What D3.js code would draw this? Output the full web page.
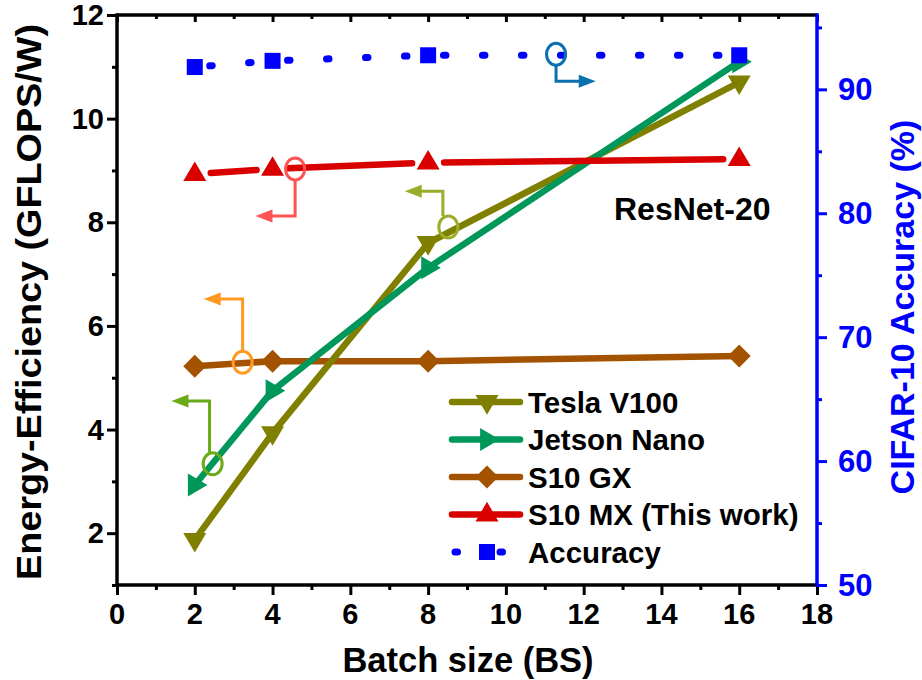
<!DOCTYPE html>
<html>
<head>
<meta charset="utf-8">
<script src="https://cdn.jsdelivr.net/npm/d3@7"></script>
<style>
  body { margin: 0; background: #fff; }
  svg text { font-family: "Liberation Sans", Arial, sans-serif; font-weight: bold; }
</style>
</head>
<body>
<svg id="chart" width="922" height="680"></svg>
<script>
// values
var batchSize = [2, 4, 8, 16];
var tesla = [1.87, 3.93, 7.6, 10.7];
var jetson = [2.93, 4.75, 7.12, 11.1];
var s10gx = [5.22, 5.32, 5.32, 5.42];
var s10mx = [8.93, 9.03, 9.15, 9.22];
var accuracy = [91.8, 92.3, 92.75, 92.75];

var xTicks = [0, 2, 4, 6, 8, 10, 12, 14, 16, 18];
var yLeftTicks = [2, 4, 6, 8, 10, 12];
var yRightTicks = [50, 60, 70, 80, 90];

var legendNames = ["Tesla V100", "Jetson Nano", "S10 GX", "S10 MX (This work)", "Accuracy"];

// axis pointers: circle (cx, cy), elbow y, arrow tip x, which axis
var pointers = [
  { cx: 2.46, cy: 3.34, vx: 2.38, ey: 4.55, tip: 1.4, axis: "L", color: "#6aaa18" },
  { cx: 3.23, cy: 5.3, vx: 3.23, ey: 6.52, tip: 2.23, axis: "L", color: "#ff9a22" },
  { cx: 4.58, cy: 9.03, vx: 4.58, ey: 8.12, tip: 3.56, axis: "L", color: "#ff5252" },
  { cx: 8.52, cy: 7.91, vx: 8.38, ey: 8.6, tip: 7.4, axis: "L", color: "#9aad2a" },
  { cx: 11.29, cy: 92.83, vx: 11.29, ey: 90.65, tip: 12.31, axis: "R", color: "#0a70b0" }
];

var margin = {left: 117, top: 15, right: 105, bottom: 95};
var W = 922, H = 680;
var svg = d3.select("#chart");

var x = d3.scaleLinear().domain([0, 18]).range([margin.left, W - margin.right]);
var yL = d3.scaleLinear().domain([1, 12]).range([H - margin.bottom, margin.top]);
var yR = d3.scaleLinear().domain([50, 96]).range([H - margin.bottom, margin.top]);

var colors = {
  tesla: "#808000",
  jetson: "#00975a",
  gx: "#a35300",
  mx: "#d90000",
  acc: "#0000ff"
};

// ---- axes ----
var axBottom = svg.append("g")
  .attr("transform", "translate(0," + yL.range()[0] + ")")
  .call(d3.axisBottom(x).tickValues(d3.range(0, 19, 1)).tickSize(10).tickFormat(""));
axBottom.selectAll(".tick line").attr("y2", function(d) { return d % 2 ? 5 : 10; });
svg.append("g").selectAll("text").data(xTicks).join("text")
  .attr("x", d => x(d)).attr("y", 624)
  .attr("text-anchor", "middle").attr("font-size", 29)
  .text(d => d);

var axTop = svg.append("g")
  .attr("transform", "translate(0," + yL.range()[1] + ")")
  .call(d3.axisBottom(x).tickValues(d3.range(0, 19, 1)).tickSize(7).tickFormat(""));
axTop.selectAll(".tick line").attr("y2", function(d) { return d % 2 ? 4 : 7; });

var axLeft = svg.append("g")
  .attr("transform", "translate(" + x(0) + ",0)")
  .call(d3.axisLeft(yL).tickValues(d3.range(1, 13, 1)).tickSize(10).tickFormat(""));
axLeft.selectAll(".tick line").attr("x2", function(d) { return d % 2 ? -5 : -10; });
svg.append("g").selectAll("text").data(yLeftTicks).join("text")
  .attr("x", 104).attr("y", d => yL(d) + 10)
  .attr("text-anchor", "end").attr("font-size", 29)
  .text(d => d);

var axRight = svg.append("g")
  .attr("transform", "translate(" + x(18) + ",0)")
  .call(d3.axisRight(yR).tickValues(d3.range(50, 96, 5)).tickSize(10).tickFormat(""));
axRight.selectAll(".tick line").attr("x2", function(d) { return d % 10 ? 5 : 10; });
svg.append("g").selectAll("text").data(yRightTicks).join("text")
  .attr("x", 838).attr("y", d => yR(d) + 11)
  .attr("text-anchor", "start").attr("font-size", 31).attr("fill", colors.acc)
  .text(d => d);

svg.selectAll(".tick line").attr("stroke-width", 3);
axRight.selectAll(".tick line").attr("stroke", colors.acc);

// box lines drawn plain so no end caps stick out
svg.selectAll(".domain").remove();
var x0 = x(0), x1 = x(18), y0 = yL(1), y1 = yL(12);
svg.append("line").attr("x1", x0).attr("x2", x1).attr("y1", y0).attr("y2", y0).attr("stroke", "#000").attr("stroke-width", 3.5);
svg.append("line").attr("x1", x0).attr("x2", x1).attr("y1", y1).attr("y2", y1).attr("stroke", "#000").attr("stroke-width", 3.5);
svg.append("line").attr("x1", x0).attr("x2", x0).attr("y1", y0 + 1.7).attr("y2", y1 - 1.7).attr("stroke", "#000").attr("stroke-width", 3.5);
svg.append("line").attr("x1", x1).attr("x2", x1).attr("y1", y0 + 1.7).attr("y2", y1 - 1.7).attr("stroke", colors.acc).attr("stroke-width", 3.5);

// titles
svg.append("text").attr("x", 468).attr("y", 672).attr("text-anchor", "middle")
  .attr("font-size", 34.5).text("Batch size (BS)");
svg.append("text").attr("transform", "translate(41,302) rotate(-90)").attr("text-anchor", "middle")
  .attr("font-size", 35).attr("textLength", 556).attr("lengthAdjust", "spacingAndGlyphs")
  .text("Energy-Efficiency (GFLOPS/W)");
svg.append("text").attr("transform", "translate(914,307) rotate(-90)").attr("text-anchor", "middle")
  .attr("font-size", 34).attr("fill", colors.acc).text("CIFAR-10 Accuracy (%)");

svg.append("text").attr("x", 614).attr("y", 220).attr("font-size", 32).text("ResNet-20");

// ---- markers ----
function marker(g, type, cx, cy, color) {
  var s = 11.5;
  if (type === "down") {
    g.append("path").attr("d", "M" + (cx - s) + "," + (cy - s * 0.6) + "L" + (cx + s) + "," + (cy - s * 0.6) + "L" + cx + "," + (cy + s * 1.1) + "Z").attr("fill", color);
  } else if (type === "up") {
    g.append("path").attr("d", "M" + (cx - s) + "," + (cy + s * 0.6) + "L" + (cx + s) + "," + (cy + s * 0.6) + "L" + cx + "," + (cy - s * 1.1) + "Z").attr("fill", color);
  } else if (type === "right") {
    g.append("path").attr("d", "M" + (cx - s * 0.6) + "," + (cy - s) + "L" + (cx - s * 0.6) + "," + (cy + s) + "L" + (cx + s * 1.1) + "," + cy + "Z").attr("fill", color);
  } else if (type === "diamond") {
    g.append("path").attr("d", "M" + (cx - s) + "," + cy + "L" + cx + "," + (cy - s) + "L" + (cx + s) + "," + cy + "L" + cx + "," + (cy + s) + "Z").attr("fill", color);
  } else if (type === "square") {
    g.append("rect").attr("x", cx - 8).attr("y", cy - 8).attr("width", 16).attr("height", 16).attr("fill", color);
  }
}

// line with gaps around each marker (Origin style)
function gappedLine(g, pts, color, gap) {
  for (var i = 0; i < pts.length - 1; i++) {
    var a = pts[i], b = pts[i + 1];
    var dx = b[0] - a[0], dy = b[1] - a[1], len = Math.sqrt(dx * dx + dy * dy);
    var ux = dx / len, uy = dy / len;
    g.append("line")
      .attr("x1", a[0] + ux * gap).attr("y1", a[1] + uy * gap)
      .attr("x2", b[0] - ux * gap).attr("y2", b[1] - uy * gap)
      .attr("stroke", color).attr("stroke-width", 6.5).attr("stroke-linecap", "round");
  }
}

var series = [
  { vals: s10gx, y: yL, color: colors.gx, type: "diamond", gap: 0 },
  { vals: tesla, y: yL, color: colors.tesla, type: "down", gap: 0 },
  { vals: jetson, y: yL, color: colors.jetson, type: "right", gap: 0 },
  { vals: s10mx, y: yL, color: colors.mx, type: "up", gap: 16 }
];

var plot = svg.append("g");
series.forEach(function(s) {
  var pts = batchSize.map(function(b, i) { return [x(b), s.y(s.vals[i])]; });
  var g = plot.append("g");
  gappedLine(g, pts, s.color, s.gap);
  pts.forEach(function(p) { marker(g, s.type, p[0], p[1], s.color); });
});

// accuracy: dotted line on right axis
var accG = plot.append("g");
var accLine = d3.line().x((d, i) => x(batchSize[i])).y(d => yR(d));
accG.append("path").datum(accuracy).attr("d", accLine)
  .attr("fill", "none").attr("stroke", colors.acc).attr("stroke-width", 7)
  .attr("stroke-linecap", "round").attr("stroke-dasharray", "2.5 36.5").attr("stroke-dashoffset", -15);
accuracy.forEach(function(v, i) { marker(accG, "square", x(batchSize[i]), yR(v), colors.acc); });

// ---- axis pointers ----
var pg = svg.append("g");
pointers.forEach(function(p) {
  var yy = p.axis === "R" ? yR : yL;
  var cx = x(p.cx), cy = yy(p.cy), vx = x(p.vx), ey = yy(p.ey), tx = x(p.tip);
  var dir = tx < vx ? -1 : 1;
  var startY = ey < cy ? cy - 11 : cy + 11;
  pg.append("polyline")
    .attr("points", [[vx, startY], [vx, ey], [tx - dir * 14, ey]].map(d => d.join(",")).join(" "))
    .attr("fill", "none").attr("stroke", p.color).attr("stroke-width", 3);
  pg.append("path")
    .attr("d", "M" + tx + "," + ey + "L" + (tx - dir * 17) + "," + (ey - 6.5) + "L" + (tx - dir * 17) + "," + (ey + 6.5) + "Z")
    .attr("fill", p.color);
  pg.append("ellipse").attr("cx", cx).attr("cy", cy).attr("rx", 9.5).attr("ry", 11)
    .attr("fill", "none").attr("stroke", p.color).attr("stroke-width", 3);
});

// ---- legend ----
var lg = svg.append("g");
var legendTypes = [
  { color: colors.tesla, type: "down" },
  { color: colors.jetson, type: "right" },
  { color: colors.gx, type: "diamond" },
  { color: colors.mx, type: "up" },
  { color: colors.acc, type: "square" }
];
var rowY = d3.scalePoint().domain(legendNames).range([402, 552]);
legendNames.forEach(function(name, i) {
  var t = legendTypes[i], yy = rowY(name);
  if (t.type === "square") {
    lg.append("line").attr("x1", 455).attr("x2", 520).attr("y1", yy).attr("y2", yy)
      .attr("stroke", t.color).attr("stroke-width", 7).attr("stroke-linecap", "round")
      .attr("stroke-dasharray", "2.5 42.5");
  } else {
    lg.append("line").attr("x1", 452).attr("x2", 520).attr("y1", yy).attr("y2", yy)
      .attr("stroke", t.color).attr("stroke-width", 6.5).attr("stroke-linecap", "round");
  }
  marker(lg, t.type, 487, yy, t.color);
  lg.append("text").attr("x", 528).attr("y", yy + 10.5).attr("font-size", 29.5).text(name);
});
</script>
</body>
</html>
